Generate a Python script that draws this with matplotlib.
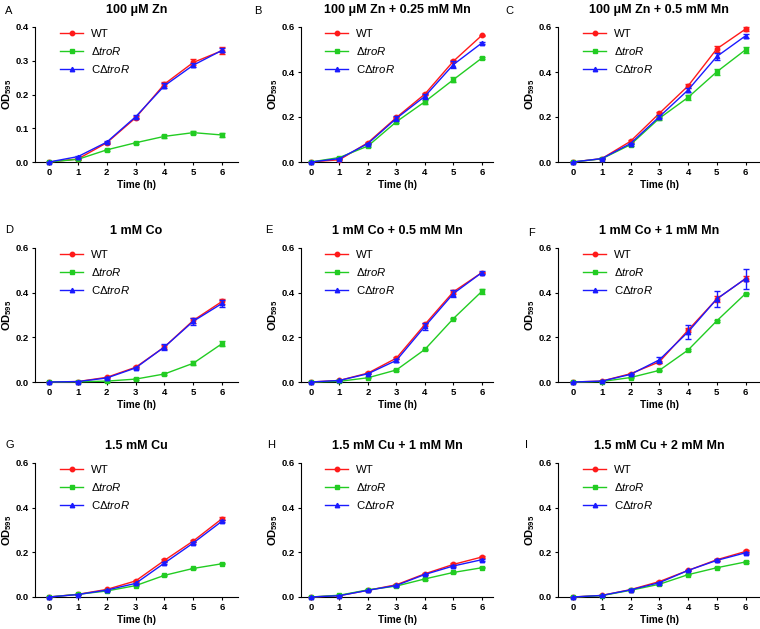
import matplotlib
matplotlib.use("Agg")
from matplotlib import pyplot as plt
from matplotlib import rcParams
from matplotlib.lines import Line2D

rcParams.update({
    "font.family": ["Liberation Sans", "DejaVu Sans"],
    "mathtext.fontset": "custom",
    "mathtext.rm": "Liberation Sans",
    "mathtext.it": "Liberation Sans:italic",
    "mathtext.bf": "Liberation Sans:bold",
    "axes.linewidth": 0.8,
})

hours = [0, 1, 2, 3, 4, 5, 6]
strains = ["WT", r"$\Delta\mathit{troR}$", r"C$\Delta\mathit{troR}$"]
colors = ["#ff1a1a", "#22cc22", "#1a1aff"]
markers = ["o", "s", "^"]

letters = ["A", "B", "C", "D", "E", "F", "G", "H", "I"]
titles = ["100 \u03bcM Zn", "100 \u03bcM Zn + 0.25 mM Mn", "100 \u03bcM Zn + 0.5 mM Mn",
          "1 mM Co", "1 mM Co + 0.5 mM Mn", "1 mM Co + 1 mM Mn",
          "1.5 mM Cu", "1.5 mM Cu + 1 mM Mn", "1.5 mM Cu + 2 mM Mn"]

# OD595 means per panel: WT, dtroR, CdtroR
wt = [
    [0.0, 0.009, 0.057, 0.131, 0.231, 0.295, 0.330],
    [0.0, 0.010, 0.086, 0.198, 0.302, 0.448, 0.563],
    [0.0, 0.015, 0.092, 0.216, 0.338, 0.503, 0.591],
    [0.0, 0.002, 0.021, 0.066, 0.157, 0.276, 0.361],
    [0.0, 0.007, 0.040, 0.107, 0.258, 0.404, 0.490],
    [0.0, 0.004, 0.037, 0.090, 0.232, 0.372, 0.463],
    [0.0, 0.012, 0.034, 0.072, 0.164, 0.251, 0.351],
    [0.0, 0.006, 0.030, 0.055, 0.104, 0.146, 0.179],
    [0.0, 0.007, 0.033, 0.069, 0.119, 0.167, 0.204],
]
mut = [
    [0.0, 0.008, 0.036, 0.057, 0.076, 0.087, 0.080],
    [0.0, 0.020, 0.071, 0.179, 0.268, 0.366, 0.462],
    [0.0, 0.014, 0.077, 0.194, 0.287, 0.401, 0.499],
    [0.0, 0.001, 0.004, 0.013, 0.036, 0.084, 0.172],
    [0.0, 0.003, 0.019, 0.054, 0.146, 0.284, 0.406],
    [0.0, 0.002, 0.020, 0.052, 0.143, 0.274, 0.396],
    [0.0, 0.012, 0.027, 0.051, 0.097, 0.128, 0.149],
    [0.0, 0.008, 0.032, 0.049, 0.081, 0.110, 0.131],
    [0.0, 0.006, 0.030, 0.057, 0.100, 0.131, 0.157],
]
comp = [
    [0.0, 0.016, 0.059, 0.134, 0.226, 0.287, 0.331],
    [0.0, 0.015, 0.082, 0.194, 0.292, 0.433, 0.529],
    [0.0, 0.015, 0.082, 0.201, 0.320, 0.469, 0.561],
    [0.0, 0.002, 0.018, 0.063, 0.157, 0.272, 0.352],
    [0.0, 0.007, 0.037, 0.097, 0.249, 0.396, 0.490],
    [0.0, 0.004, 0.034, 0.099, 0.224, 0.372, 0.463],
    [0.0, 0.011, 0.031, 0.061, 0.152, 0.242, 0.340],
    [0.0, 0.006, 0.030, 0.052, 0.101, 0.139, 0.167],
    [0.0, 0.007, 0.032, 0.064, 0.119, 0.164, 0.198],
]
# standard deviations (estimated from error bars)
wt_err = [
    [0, 0.002, 0.003, 0.004, 0.006, 0.009, 0.010],
    [0, 0.002, 0.005, 0.004, 0.005, 0.004, 0.003],
    [0, 0.002, 0.005, 0.006, 0.010, 0.014, 0.010],
    [0, 0.001, 0.003, 0.004, 0.008, 0.010, 0.010],
    [0, 0.001, 0.003, 0.005, 0.008, 0.008, 0.004],
    [0, 0.001, 0.003, 0.006, 0.010, 0.012, 0.012],
    [0, 0.002, 0.003, 0.004, 0.006, 0.006, 0.008],
    [0, 0.001, 0.002, 0.003, 0.004, 0.005, 0.005],
    [0, 0.001, 0.002, 0.003, 0.004, 0.005, 0.005],
]
mut_err = [
    [0, 0.002, 0.004, 0.003, 0.004, 0.005, 0.007],
    [0, 0.004, 0.006, 0.006, 0.008, 0.010, 0.006],
    [0, 0.002, 0.004, 0.006, 0.010, 0.014, 0.014],
    [0, 0.001, 0.002, 0.003, 0.004, 0.008, 0.012],
    [0, 0.001, 0.002, 0.003, 0.004, 0.004, 0.012],
    [0, 0.001, 0.002, 0.003, 0.003, 0.004, 0.004],
    [0, 0.001, 0.002, 0.003, 0.003, 0.003, 0.003],
    [0, 0.001, 0.002, 0.002, 0.003, 0.003, 0.003],
    [0, 0.001, 0.002, 0.002, 0.003, 0.003, 0.003],
]
comp_err = [
    [0, 0.003, 0.003, 0.004, 0.008, 0.006, 0.006],
    [0, 0.003, 0.004, 0.010, 0.012, 0.014, 0.004],
    [0, 0.002, 0.004, 0.006, 0.010, 0.014, 0.010],
    [0, 0.001, 0.003, 0.004, 0.012, 0.016, 0.016],
    [0, 0.001, 0.003, 0.006, 0.014, 0.016, 0.006],
    [0, 0.001, 0.004, 0.015, 0.030, 0.034, 0.045],
    [0, 0.001, 0.002, 0.003, 0.005, 0.005, 0.006],
    [0, 0.001, 0.002, 0.002, 0.003, 0.004, 0.004],
    [0, 0.001, 0.002, 0.002, 0.003, 0.004, 0.004],
]

W, H = 760, 629
fig = plt.figure(figsize=(W / 100, H / 100), dpi=100)

# pixel layout per column / row
col_lr = [(35, 238), (301, 493), (558, 760)]
col_xlim = [(-0.49, 6.55), (-0.35, 6.39), (-0.52, 6.5)]
row_tb = [(27, 162), (248, 382), (463, 597)]
letter_xy = [(5, 6), (254, 6), (505, 6), (5, 225), (265, 225), (528, 228),
             (5, 440), (267, 440), (525, 440)]

handles = [Line2D([], [], color=colors[k], marker=markers[k], markersize=3.2,
                  linewidth=1.0) for k in range(3)]

for i in range(9):
    r, c = divmod(i, 3)
    left, right = col_lr[c]
    top, bottom = row_tb[r]
    ax = fig.add_axes([left / W, 1 - bottom / H, (right - left) / W, (bottom - top) / H])
    series = [wt[i], mut[i], comp[i]]
    errs = [wt_err[i], mut_err[i], comp_err[i]]
    for k in range(3):
        ax.errorbar(hours, series[k], yerr=errs[k], color=colors[k], marker=markers[k],
                    markersize=3.2, linewidth=1.0, elinewidth=1.0, capsize=2.2,
                    capthick=1.0, clip_on=False, zorder=3 + (k == 2))
    ax.set_xlim(*col_xlim[c])
    if i == 0:
        ax.set_ylim(0, 0.4)
        ax.set_yticks([0.0, 0.1, 0.2, 0.3, 0.4])
    else:
        ax.set_ylim(0, 0.6)
        ax.set_yticks([0.0, 0.2, 0.4, 0.6])
    ax.yaxis.set_major_formatter(matplotlib.ticker.FormatStrFormatter("%.1f"))
    ax.set_xticks(hours)
    ax.spines["top"].set_visible(False)
    ax.spines["right"].set_visible(False)
    ax.tick_params(length=2.5, width=0.8, labelsize=6.8, pad=2)
    for lab in ax.get_xticklabels() + ax.get_yticklabels():
        lab.set_fontweight("bold")
    ax.set_xlabel("Time (h)", fontsize=7.2, fontweight="bold", labelpad=2)
    ax.set_ylabel(r"$\mathbf{OD_{595}}$", fontsize=8, labelpad=1)
    ax.set_title(titles[i], fontsize=9, fontweight="bold", pad=10)
    ax.legend(handles, strains, loc="upper left", bbox_to_anchor=(0.08, 1.05),
              frameon=False, fontsize=8.2, handlelength=2.0, labelspacing=0.5,
              borderpad=0.3, handletextpad=0.7)
    lx, ly = letter_xy[i]
    fig.text(lx / W, 1 - ly / H, letters[i], fontsize=8, ha="left", va="top")

fig.savefig("out.png", dpi=100)
